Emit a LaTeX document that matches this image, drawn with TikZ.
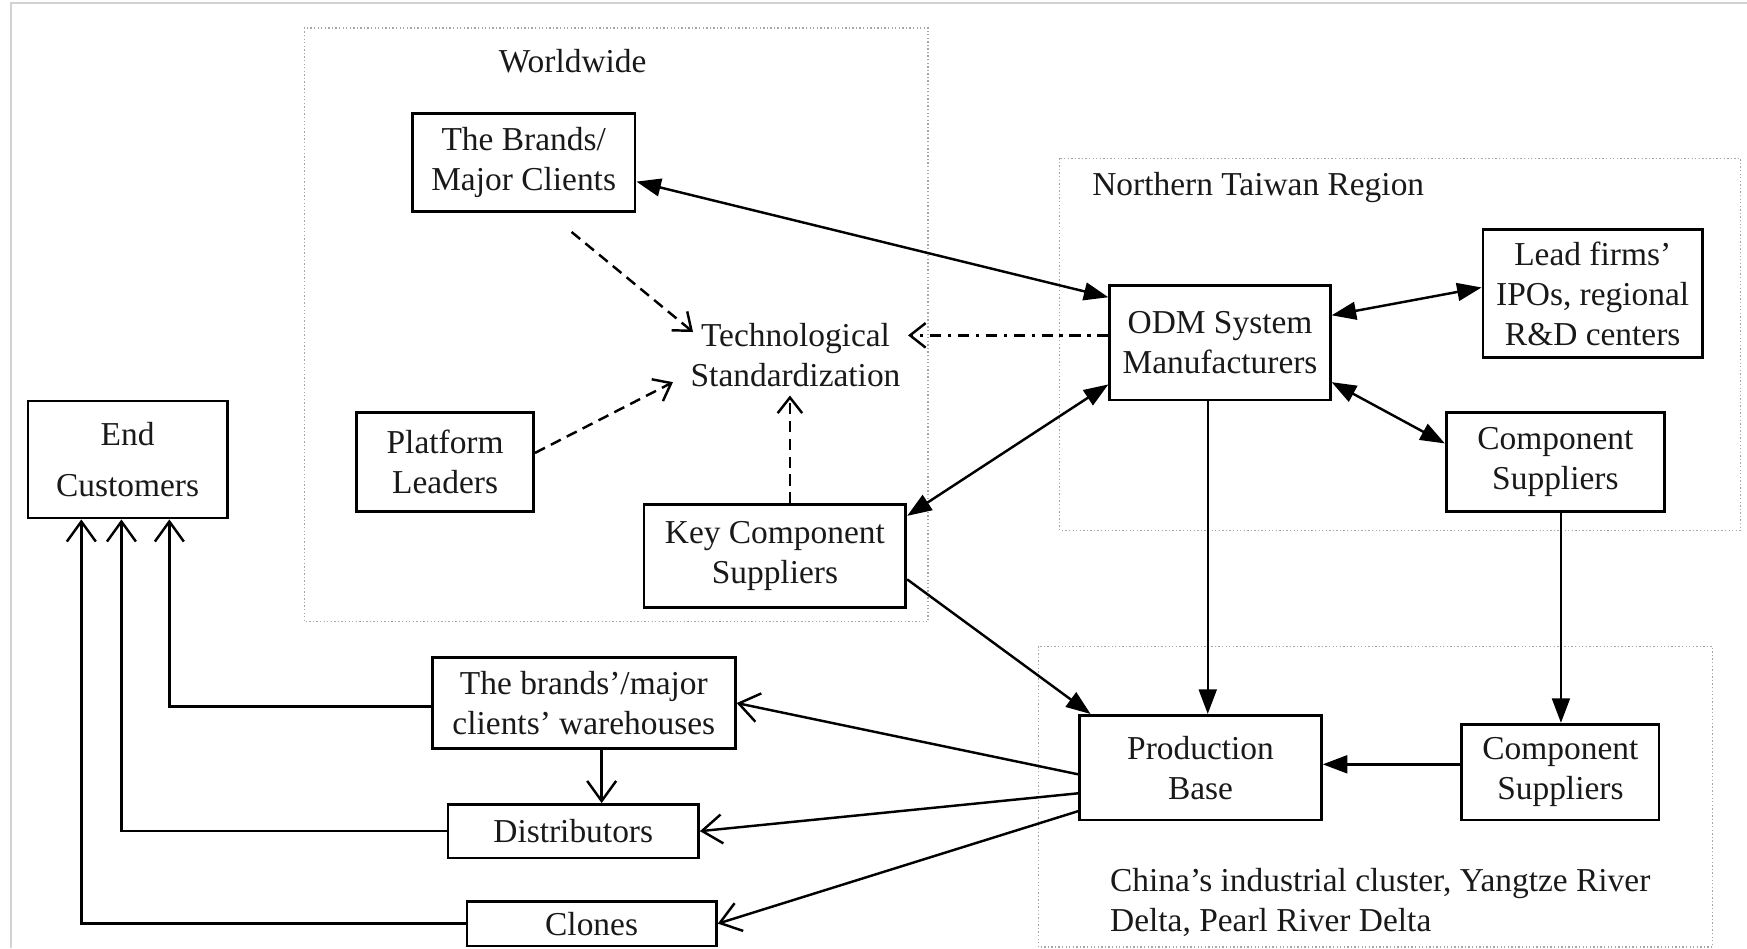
\documentclass[tikz,border=0pt]{standalone}
\usepackage{fontspec}
\setmainfont{Liberation Serif}
\usetikzlibrary{arrows.meta,calc}
\begin{document}
\begin{tikzpicture}[x=0.5pt,y=-0.5pt,
  every node/.style={font=\fontsize{15}{18}\selectfont, text=black!90},
  box/.style={draw, line width=1.2pt, align=center, inner sep=0pt},
  region/.style={draw=gray!70, line width=0.6pt, densely dotted},
  conn/.style={line width=1.1pt},
  ftip/.style={-{Triangle[length=11pt,width=8pt]}},
  both/.style={{Triangle[length=11pt,width=8pt]}-{Triangle[length=11pt,width=8pt]}},
  otip/.style={-{Straight Barb[length=9pt,width=13pt]}},
  dtip/.style={-{Straight Barb[length=7pt,width=11pt]}},
  dsh/.style={dash pattern=on 5pt off 3pt},
  dashdot/.style={dash pattern=on 5pt off 3pt on 1.5pt off 3pt},
]
\useasboundingbox (0,0) rectangle (1568,851);
\draw[gray!35, line width=1pt] (10,851) -- (10,3) -- (1568,3);

% regions
\draw[region] (273,25) rectangle (833,558);
\draw[region] (951,142) rectangle (1562,476);
\draw[region] (932,580) rectangle (1537,850);

% nodes
\node (ww) at (514,55) {Worldwide};
\node[box, minimum width=100pt, minimum height=44pt] (brands) at (470,146) {The Brands/\\Major Clients};
\node[align=center, inner sep=0pt] (tech) at (714,319) {Technological\\Standardization};
\node[box, minimum width=79.5pt, minimum height=44.5pt] (plat) at (399.5,414.5) {Platform\\Leaders};
\node[box, minimum width=117.5pt, minimum height=46pt] (key) at (695.5,499) {Key Component\\Suppliers};
\node[box, minimum width=89.5pt, minimum height=52.5pt] (endc) at (114.5,412.5) {End\\[4.5pt]Customers};
\node[anchor=west, inner sep=0pt] (ntr) at (980,168) {Northern Taiwan Region};
\node[box, minimum width=99pt, minimum height=51.5pt] (odm) at (1095,307.5) {ODM System\\Manufacturers};
\node[box, minimum width=98.5pt, minimum height=57.5pt] (lead) at (1429.5,263.5) {Lead firms’\\IPOs, regional\\R\&D centers};
\node[box, minimum width=98pt, minimum height=44.5pt] (compn) at (1396,414.5) {Component\\Suppliers};
\node[box, minimum width=108.5pt, minimum height=47pt] (prod) at (1077.5,689) {Production\\Base};
\node[box, minimum width=88.5pt, minimum height=43pt] (compc) at (1400.5,693) {Component\\Suppliers};
\node[anchor=west, align=left, inner sep=0pt] (china) at (996,810) {China’s industrial cluster, Yangtze River\\Delta, Pearl River Delta};
\node[box, minimum width=136pt, minimum height=41pt] (ware) at (524,631) {The brands’/major\\clients’ warehouses};
\node[box, minimum width=112.5pt, minimum height=24pt] (dist) at (514.5,746) {Distributors};
\node[box, minimum width=112pt, minimum height=20pt] (clones) at (531,829) {Clones};

% connectors
\draw[conn,both] ([yshift=-8.5pt]brands.east) -- ([yshift=-6pt]odm.north west);
\draw[conn,dsh,dtip] ([xshift=21.5pt,yshift=-8.5pt]brands.south) -- ([xshift=-46pt,yshift=10.5pt]tech.center);
\draw[conn,dsh,dtip] ([yshift=4pt]plat.east) -- ([xshift=-55pt,yshift=-12pt]tech.center);
\draw[conn,dsh,dtip] ([xshift=6.75pt]key.north) -- ([xshift=-2.5pt,yshift=-18pt]tech.center);
\draw[conn,dashdot,dtip] ([yshift=3.25pt]odm.west) -- ([xshift=50.5pt,yshift=9pt]tech.center);
\draw[conn,both] ([yshift=12.25pt]odm.east) -- ([yshift=2.75pt]lead.west);
\draw[conn,both] ([yshift=-17.75pt]odm.east) -- ([yshift=8.25pt]compn.west);
\draw[conn,both] ([yshift=-18.75pt]odm.west) -- ([yshift=18pt]key.east);
\coordinate (o1) at ([xshift=-5.5pt]odm.south);
\draw[conn,ftip] (o1) -- (o1 |- prod.north);
\coordinate (c1) at ([xshift=2.5pt]compn.south);
\draw[conn,ftip] (c1) -- (c1 |- compc.north);
\coordinate (c2) at ([yshift=3.5pt]compc.west);
\draw[conn,ftip] (c2) -- (c2 -| prod.east);
\draw[conn,ftip] ([yshift=-10.5pt]key.east) -- ([xshift=5.5pt]prod.north west);
\draw[conn,otip] ([yshift=-3pt]prod.west) -- (ware.east);
\draw[conn,otip] ([yshift=-11.5pt]prod.west) -- (dist.east);
\draw[conn,otip] ([yshift=-19.5pt]prod.west) -- (clones.east);
\coordinate (w1) at ([xshift=8pt]ware.south);
\draw[conn,otip] (w1) -- (w1 |- dist.north);
\draw[conn,otip] ([yshift=-1.5pt]ware.west) -| ([xshift=18.75pt]endc.south);
\draw[conn,otip] (dist.west) -| ([xshift=-2.75pt]endc.south);
\draw[conn,otip] (clones.west) -| ([xshift=-20.75pt]endc.south);
\end{tikzpicture}
\end{document}
